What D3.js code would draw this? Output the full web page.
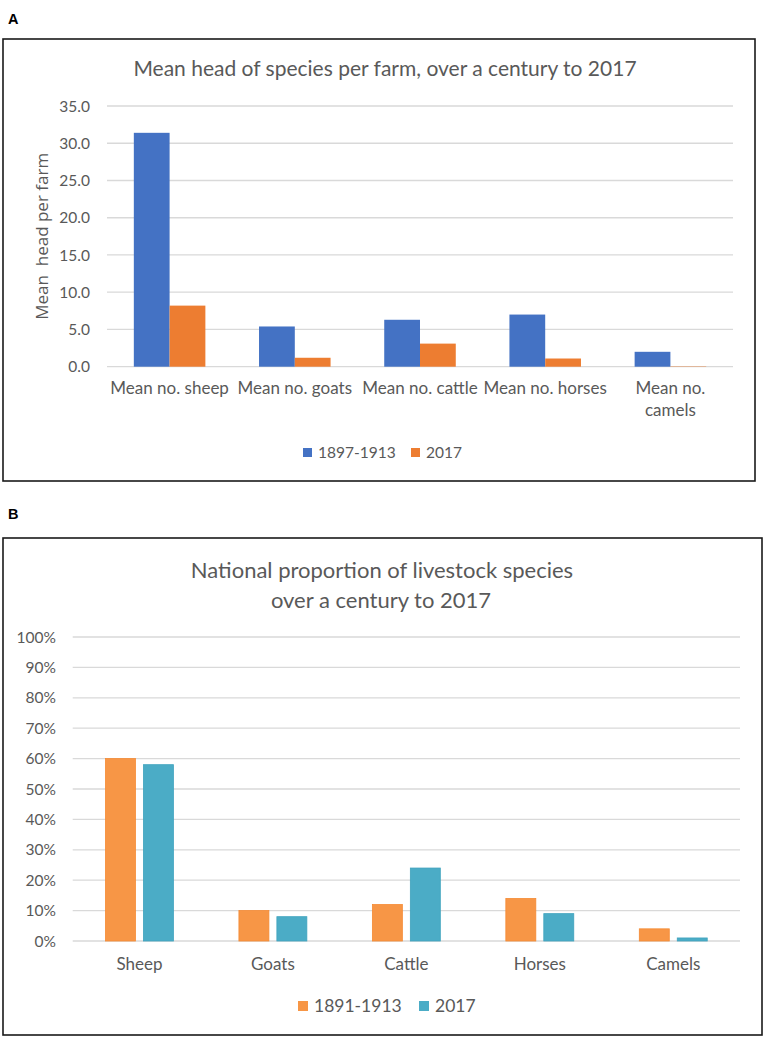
<!DOCTYPE html>
<html>
<head>
<meta charset="utf-8">
<script src="https://cdn.jsdelivr.net/npm/d3@7/dist/d3.min.js"></script>
<style>
  html, body { margin: 0; padding: 0; background: #fff; }
  svg { display: block; }
  text { font-family: Lato, "Open Sans", sans-serif; fill: #595959; }
</style>
</head>
<body>
<div id="chart"></div>
<script>
// ---------- Data ----------
const categoriesA = ["Mean no. sheep", "Mean no. goats", "Mean no. cattle", "Mean no. horses", "Mean no. camels"];
const labelLinesA = [["Mean no. sheep"], ["Mean no. goats"], ["Mean no. cattle"], ["Mean no. horses"], ["Mean no.", "camels"]];
const seriesNamesA = ["1897-1913", "2017"];
const values1897 = [31.4, 5.4, 6.3, 7.0, 2.0];
const values2017A = [8.2, 1.2, 3.1, 1.1, 0.05];
const ticksA = [0, 5, 10, 15, 20, 25, 30, 35];

const categoriesB = ["Sheep", "Goats", "Cattle", "Horses", "Camels"];
const seriesNamesB = ["1891-1913", "2017"];
const values1891 = [0.60, 0.10, 0.12, 0.14, 0.04];
const values2017B = [0.58, 0.08, 0.24, 0.09, 0.01];
const ticksB = [0, 0.1, 0.2, 0.3, 0.4, 0.5, 0.6, 0.7, 0.8, 0.9, 1.0];

const titleA = "Mean head of species per farm, over a century to 2017";
const yTitleA = "Mean  head per farm";
const titleB = ["National proportion of livestock species", "over a century to 2017"];

// ---------- Setup ----------
const W = 765, H = 1039;
const svg = d3.select("#chart").append("svg").attr("width", W).attr("height", H);
svg.append("rect").attr("width", W).attr("height", H).attr("fill", "#fff");

const gridColor = "#D9D9D9";

// Panel letters
svg.append("text").attr("x", 8).attr("y", 24).text("A")
  .style("font-family", "'Liberation Sans', Arial, sans-serif").style("font-weight", "bold")
  .style("font-size", "14.5px").style("fill", "#000");
svg.append("text").attr("x", 8).attr("y", 519).text("B")
  .style("font-family", "'Liberation Sans', Arial, sans-serif").style("font-weight", "bold")
  .style("font-size", "14.5px").style("fill", "#000");

// ================= Panel A =================
svg.append("rect").attr("x", 3).attr("y", 39).attr("width", 752).attr("height", 442)
  .attr("fill", "none").attr("stroke", "#1a1a1a").attr("stroke-width", 1.6);

svg.append("text").attr("x", 385).attr("y", 76).attr("text-anchor", "middle")
  .style("font-size", "21px").text(titleA);

const xA = d3.scaleBand().domain(categoriesA).range([107, 733])
  .paddingInner(1.5 / 3.5).paddingOuter(0.75 / 3.5);
const x1A = d3.scaleBand().domain(seriesNamesA).range([0, xA.bandwidth()]).padding(0);
const yA = d3.scaleLinear().domain([0, 35]).range([366.7, 106]);
const colorsA = { "1897-1913": "#4472C4", "2017": "#ED7D31" };

// gridlines
const gA = svg.append("g");
gA.selectAll("line.grid").data(ticksA).join("line")
  .attr("x1", 107).attr("x2", 733)
  .attr("y1", d => yA(d)).attr("y2", d => yA(d))
  .attr("stroke", gridColor).attr("stroke-width", 1.3);

// y tick labels
gA.selectAll("text.tick").data(ticksA).join("text")
  .attr("x", 90).attr("y", d => yA(d)).attr("dy", "0.36em")
  .attr("text-anchor", "end").style("font-size", "15.5px")
  .text(d => d3.format(".1f")(d));

// y title
svg.append("text")
  .attr("transform", `translate(48,${(yA(0) + yA(35)) / 2}) rotate(-90)`)
  .attr("text-anchor", "middle")
  .style("font-family", "'Open Sans', sans-serif").style("font-size", "17px")
  .style("white-space", "pre").attr("xml:space", "preserve")
  .text(yTitleA);

// bars
const dataA = categoriesA.map((c, i) => ({ cat: c, vals: [
  { s: seriesNamesA[0], v: values1897[i] }, { s: seriesNamesA[1], v: values2017A[i] }] }));
const groupsA = svg.append("g").selectAll("g").data(dataA).join("g")
  .attr("transform", d => `translate(${xA(d.cat)},0)`);
groupsA.selectAll("rect").data(d => d.vals).join("rect")
  .attr("x", d => x1A(d.s)).attr("width", x1A.bandwidth())
  .attr("y", d => yA(d.v)).attr("height", d => yA(0) - yA(d.v))
  .attr("fill", d => colorsA[d.s]);

// category labels
const catA = svg.append("g");
categoriesA.forEach((c, i) => {
  const cx = xA(c) + xA.bandwidth() / 2;
  const t = catA.append("text").attr("y", 394).attr("text-anchor", "middle")
    .style("font-size", "17px");
  labelLinesA[i].forEach((line, j) => {
    t.append("tspan").attr("x", cx).attr("dy", j === 0 ? 0 : 22).text(line);
  });
});

// legend A
const legA = [{ s: seriesNamesA[0], sx: 303, tx: 318 }, { s: seriesNamesA[1], sx: 411, tx: 426 }];
legA.forEach(l => {
  svg.append("rect").attr("x", l.sx).attr("y", 448).attr("width", 9).attr("height", 9)
    .attr("fill", colorsA[l.s]);
  svg.append("text").attr("x", l.tx).attr("y", 452.5).attr("dy", "0.36em")
    .style("font-size", "15.5px").text(l.s);
});

// ================= Panel B =================
svg.append("rect").attr("x", 3).attr("y", 538).attr("width", 759).attr("height", 497)
  .attr("fill", "none").attr("stroke", "#1a1a1a").attr("stroke-width", 1.6);

svg.append("text").attr("x", 382).attr("y", 578).attr("text-anchor", "middle")
  .style("font-size", "22px").text(titleB[0]);
svg.append("text").attr("x", 381).attr("y", 608).attr("text-anchor", "middle")
  .style("font-size", "22px").text(titleB[1]);

const xB = d3.scaleBand().domain(categoriesB).range([72.7, 740])
  .paddingInner(0.491).paddingOuter(0.2455);
const x1B = d3.scaleBand().domain(seriesNamesB).range([0, xB.bandwidth()]).paddingInner(8 / 38).paddingOuter(0);
const yB = d3.scaleLinear().domain([0, 1]).range([941, 637]);
const colorsB = { "1891-1913": "#F79646", "2017": "#4BACC6" };
const strokesB = { "1891-1913": "#F58A33", "2017": "#3FA3BE" };

const gB = svg.append("g");
gB.selectAll("line").data(ticksB).join("line")
  .attr("x1", 72.7).attr("x2", 740)
  .attr("y1", d => yB(d)).attr("y2", d => yB(d))
  .attr("stroke", gridColor).attr("stroke-width", 1.3);
gB.selectAll("text").data(ticksB).join("text")
  .attr("x", 56).attr("y", d => yB(d)).attr("dy", "0.36em")
  .attr("text-anchor", "end").style("font-size", "15.5px")
  .text(d => d3.format(".0%")(d));

const dataB = categoriesB.map((c, i) => ({ cat: c, vals: [
  { s: seriesNamesB[0], v: values1891[i] }, { s: seriesNamesB[1], v: values2017B[i] }] }));
const groupsB = svg.append("g").selectAll("g").data(dataB).join("g")
  .attr("transform", d => `translate(${xB(d.cat)},0)`);
groupsB.selectAll("rect").data(d => d.vals).join("rect")
  .attr("x", d => x1B(d.s)).attr("width", x1B.bandwidth())
  .attr("y", d => yB(d.v)).attr("height", d => yB(0) - yB(d.v))
  .attr("fill", d => colorsB[d.s]).attr("stroke", d => strokesB[d.s]).attr("stroke-width", 0.8);

svg.append("g").selectAll("text").data(categoriesB).join("text")
  .attr("x", d => xB(d) + xB.bandwidth() / 2).attr("y", 970)
  .attr("text-anchor", "middle").style("font-size", "17px").text(d => d);

const legB = [{ s: seriesNamesB[0], sx: 298, tx: 314 }, { s: seriesNamesB[1], sx: 419, tx: 435 }];
legB.forEach(l => {
  svg.append("rect").attr("x", l.sx).attr("y", 1001).attr("width", 10).attr("height", 10)
    .attr("fill", colorsB[l.s]);
  svg.append("text").attr("x", l.tx).attr("y", 1005.5).attr("dy", "0.36em")
    .style("font-size", "17.5px").text(l.s);
});
</script>
</body>
</html>
